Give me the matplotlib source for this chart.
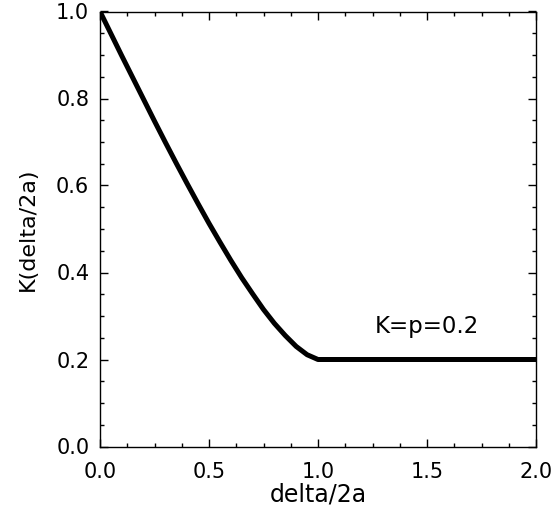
import matplotlib
matplotlib.use('Agg')
import matplotlib.pyplot as plt
from matplotlib.ticker import MultipleLocator

# Valores: K(delta/2a) frente a delta/2a
delta = [0.00, 0.05, 0.10, 0.15, 0.20, 0.25, 0.30, 0.35, 0.40, 0.45, 0.50,
         0.55, 0.60, 0.65, 0.70, 0.75, 0.80, 0.85, 0.90, 0.95, 1.00, 2.00]
K = [1.000, 0.949, 0.898, 0.848, 0.798, 0.748, 0.699, 0.651, 0.604, 0.558, 0.513,
     0.470, 0.428, 0.388, 0.351, 0.315, 0.283, 0.255, 0.230, 0.211, 0.200, 0.200]

plt.rcParams['font.family'] = 'DejaVu Sans'
plt.rcParams['font.size'] = 15

fig = plt.figure(figsize=(5.53, 5.08), dpi=100)
ax = fig.add_axes([100 / 553, 1 - 446.5 / 508, 436 / 553, 435 / 508])

ax.plot(delta, K, color='black', linewidth=3.6, solid_capstyle='butt')
ax.text(1.26, 0.26, 'K=p=0.2', fontsize=16.5)

ax.set_xlim(0, 2.0)
ax.set_ylim(0, 1.0)
ax.xaxis.set_major_locator(MultipleLocator(0.5))
ax.xaxis.set_minor_locator(MultipleLocator(0.125))
ax.yaxis.set_major_locator(MultipleLocator(0.2))
ax.yaxis.set_minor_locator(MultipleLocator(0.05))
ax.xaxis.set_major_formatter('{x:.1f}')
ax.yaxis.set_major_formatter('{x:.1f}')

ax.tick_params(which='both', direction='in', top=True, right=True, width=1)
ax.tick_params(which='major', length=5.8)
ax.tick_params(which='minor', length=2.9)
ax.tick_params(axis='x', pad=11.5)
ax.tick_params(axis='y', pad=7.7)
for s in ax.spines.values():
    s.set_linewidth(1)

ax.set_xlabel('delta/2a', fontsize=17, labelpad=0)
ax.set_ylabel('K(delta/2a)', fontsize=16, labelpad=13)

fig.savefig('out.png', dpi=100)
